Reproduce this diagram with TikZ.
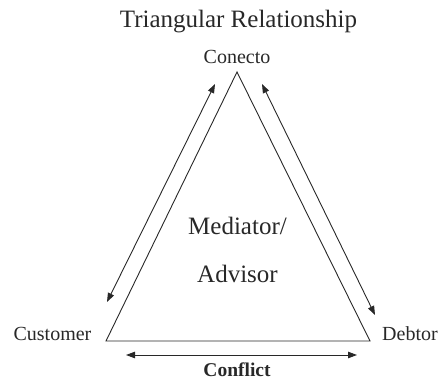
\documentclass[tikz,border=0pt]{standalone}
\usepackage{fontspec}
\setmainfont{Liberation Serif}
\usetikzlibrary{arrows.meta}
\definecolor{ink}{RGB}{40,40,40}
\begin{document}
\begin{tikzpicture}[x=1pt,y=-1pt,
  lbl/.style={anchor=base,inner sep=0pt,text=ink,font=\fontsize{20}{24}\selectfont},
  big/.style={anchor=base,inner sep=0pt,text=ink,font=\fontsize{25}{30}\selectfont},
  side/.style={draw=ink,line width=0.9pt,line join=miter},
  rel/.style={draw=ink,line width=0.9pt,{Triangle[length=9pt,width=6.5pt]}-{Triangle[length=9pt,width=6.5pt]}}]
\useasboundingbox (0,0) rectangle (444,379);
% triangle
\coordinate (A) at (237,72);
\coordinate (B) at (106,341);
\coordinate (C) at (370,341);
\draw[side] (A) -- (B) -- (C) -- cycle;
% texts
\node[big] (title) at (238.5,28) {Triangular Relationship};
\node[lbl] (con) at (237,64) {Conecto};
\node[lbl] (cus) at (52.5,340) {Customer};
\node[lbl] (deb) at (410,340) {Debtor};
\node[lbl,font=\fontsize{19.5}{24}\selectfont\bfseries] (conf) at (237,376) {Conflict};
\node[big] (med) at (237.5,235) {Mediator/};
\node[big] (adv) at (237.5,282) {Advisor};
% arrows
\coordinate (l1) at (107,302);
\coordinate (l2) at (215,84);
\coordinate (r1) at (262,84);
\coordinate (r2) at (375,315);
\coordinate (b1) at (126,355);
\coordinate (b2) at (357,355);
\draw[rel] (l1) -- (l2);
\draw[rel] (r1) -- (r2);
\draw[rel] (b1) -- (b2);
\end{tikzpicture}
\end{document}
